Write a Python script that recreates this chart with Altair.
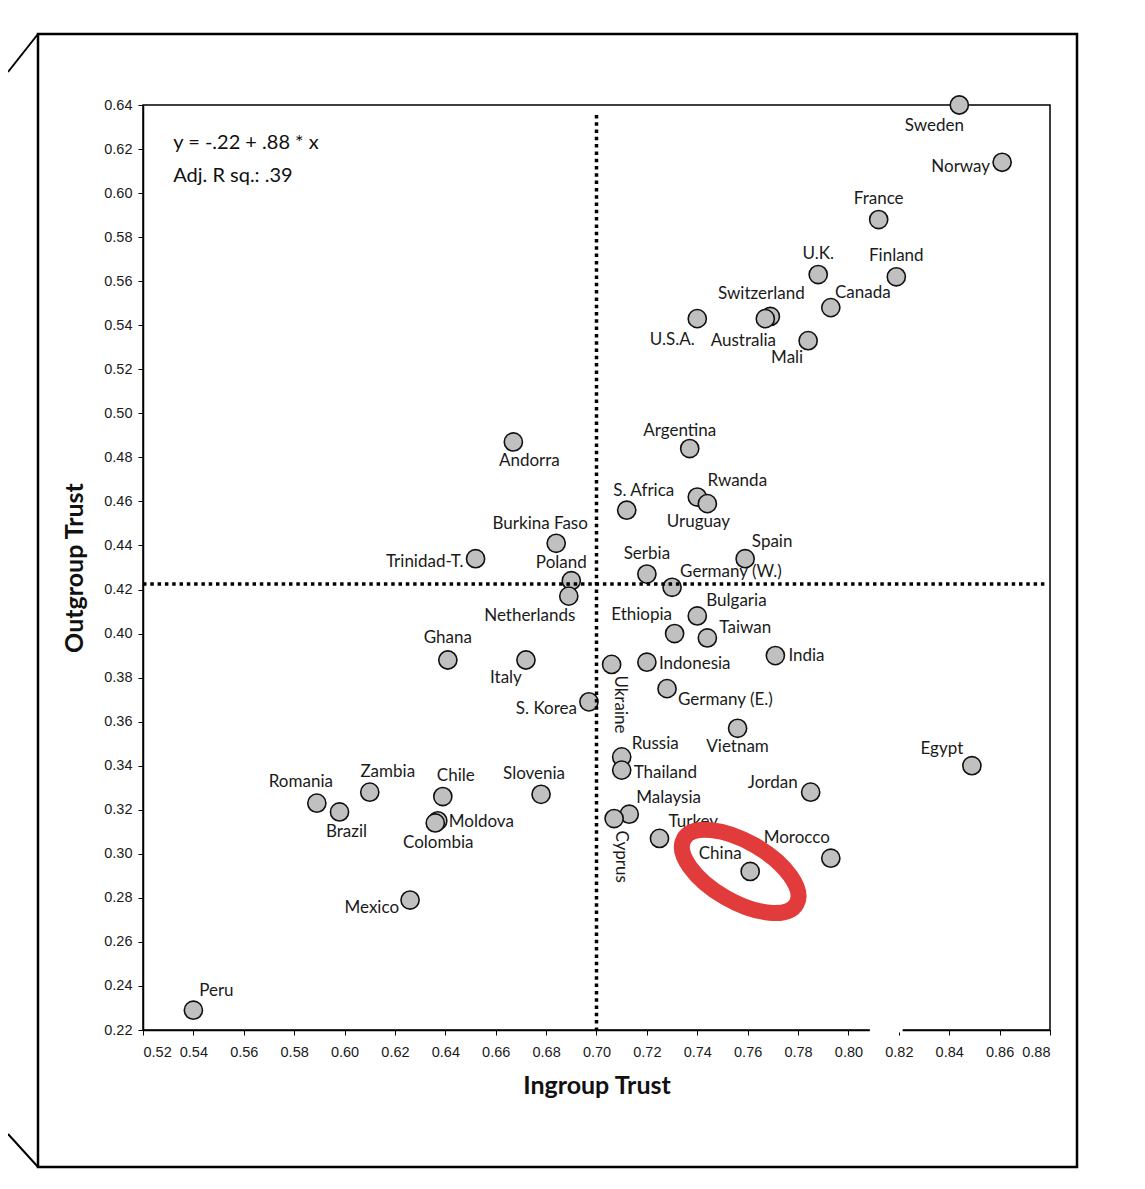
import altair as alt
import pandas as pd

# ---------------- data ----------------
countries = ["Sweden", "Norway", "France", "U.K.", "Finland", "Canada", "Switzerland",
             "Australia", "U.S.A.", "Mali", "Argentina", "Andorra", "S. Africa", "Rwanda",
             "Uruguay", "Burkina Faso", "Trinidad-T.", "Spain", "Serbia", "Poland",
             "Germany (W.)", "Netherlands", "Bulgaria", "Ethiopia", "Taiwan", "India",
             "Ghana", "Italy", "Indonesia", "Ukraine", "Germany (E.)", "S. Korea",
             "Vietnam", "Russia", "Thailand", "Egypt", "Jordan", "Zambia", "Chile",
             "Slovenia", "Romania", "Brazil", "Malaysia", "Cyprus", "Moldova",
             "Colombia", "Turkey", "Morocco", "China", "Mexico", "Peru"]
ingroup = [0.844, 0.861, 0.812, 0.788, 0.819, 0.793, 0.769,
           0.767, 0.740, 0.784, 0.737, 0.667, 0.712, 0.740,
           0.744, 0.684, 0.652, 0.759, 0.720, 0.690,
           0.730, 0.689, 0.740, 0.731, 0.744, 0.771,
           0.641, 0.672, 0.720, 0.706, 0.728, 0.697,
           0.756, 0.710, 0.710, 0.849, 0.785, 0.610, 0.639,
           0.678, 0.589, 0.598, 0.713, 0.707, 0.637,
           0.636, 0.725, 0.793, 0.761, 0.626, 0.540]
outgroup = [0.640, 0.614, 0.588, 0.563, 0.562, 0.548, 0.544,
            0.543, 0.543, 0.533, 0.484, 0.487, 0.456, 0.462,
            0.459, 0.441, 0.434, 0.434, 0.427, 0.424,
            0.421, 0.417, 0.408, 0.400, 0.398, 0.390,
            0.388, 0.388, 0.387, 0.386, 0.375, 0.369,
            0.357, 0.344, 0.338, 0.340, 0.328, 0.328, 0.326,
            0.327, 0.323, 0.319, 0.318, 0.316, 0.315,
            0.314, 0.307, 0.298, 0.292, 0.279, 0.229]

# label placement (c=centered, l=left-aligned, r=right-aligned, v=vertical) and pixel offsets
label_align = ["c", "r", "c", "c", "c", "c", "c",
               "c", "c", "c", "c", "c", "c", "c",
               "c", "c", "r", "c", "c", "c",
               "l", "c", "l", "c", "l", "l",
               "c", "c", "l", "v", "l", "r",
               "c", "l", "l", "c", "r", "c", "c",
               "c", "c", "c", "l", "v", "l",
               "c", "l", "c", "c", "r", "c"]
label_dx = [-25, -12, 0, 0, 0, 32, -9,
            -22, -25, -21, -10, 16, 17, 40,
            -9, -16, -12, 27, 0, -10,
            8, -39, 9, -33, 12, 13,
            0, -20, 12, 8, 11, -12,
            0, 10, 12, -30, -13, 18, 13,
            -7, -16, 7, 7, 7, 11,
            3, 9, -34, -30, -11, 23]
label_dy = [21, 5, -21, -21, -21, -15, -22,
            22, 21, 17, -18, 19, -19, -16,
            18, -19, 3, -17, -20, -18,
            -15, 20, -15, -19, -10, 0,
            -22, 18, 2, 40, 11, 7,
            19, -13, 3, -17, -9, -20, -21,
            -20, -21, 20, -16, 38, 1,
            20, -16, -20, -17, 8, -19]

x_ticks = [0.52, 0.54, 0.56, 0.58, 0.60, 0.62, 0.64, 0.66, 0.68, 0.70, 0.72,
           0.74, 0.76, 0.78, 0.80, 0.82, 0.84, 0.86, 0.88]
y_ticks = [0.22, 0.24, 0.26, 0.28, 0.30, 0.32, 0.34, 0.36, 0.38, 0.40, 0.42,
           0.44, 0.46, 0.48, 0.50, 0.52, 0.54, 0.56, 0.58, 0.60, 0.62, 0.64]

ref_x = 0.70          # vertical dotted reference (ingroup)
ref_y = 0.4225        # horizontal dotted reference (outgroup)
eq_lines = ["y = -.22 + .88 * x", "Adj. R sq.: .39"]
highlight = "China"

# ---------------- layout ----------------
W, H = 907, 925
X_DOM = [0.52, 0.88]
Y_DOM = [0.22, 0.64]
kx = (X_DOM[1] - X_DOM[0]) / W
ky = (Y_DOM[1] - Y_DOM[0]) / H

df = pd.DataFrame({"country": countries, "ingroup": ingroup, "outgroup": outgroup,
                   "align": label_align, "dx": label_dx, "dy": label_dy})
df["lx"] = df["ingroup"] + df["dx"] * kx
df["ly"] = df["outgroup"] - df["dy"] * ky

xs = alt.Scale(domain=X_DOM, nice=False, zero=False)
ys = alt.Scale(domain=Y_DOM, nice=False, zero=False)
x_axis = alt.Axis(values=x_ticks, format=".2f", title="Ingroup Trust",
                  labelPadding=10, titlePadding=15)
y_axis = alt.Axis(values=y_ticks, format=".2f", title="Outgroup Trust",
                  labelPadding=6, titlePadding=16)


def X(f):
    return alt.X(f, type="quantitative", scale=xs, axis=x_axis)


def Y(f):
    return alt.Y(f, type="quantitative", scale=ys, axis=y_axis)


one = pd.DataFrame({"a": [0]})

frame = alt.Chart(one).mark_rect(filled=False, color="black", strokeWidth=2.5).encode(
    x=alt.value(-105), x2=alt.value(934), y=alt.value(-71), y2=alt.value(1062))
diag1 = alt.Chart(one).mark_rule(color="black", strokeWidth=2).encode(
    x=alt.value(-105), y=alt.value(-71), x2=alt.value(-135), y2=alt.value(-33))
diag2 = alt.Chart(one).mark_rule(color="black", strokeWidth=2).encode(
    x=alt.value(-105), y=alt.value(1062), x2=alt.value(-135), y2=alt.value(1029))

points = alt.Chart(df).mark_circle(size=330, color="#c0c0c0", stroke="#111111",
                                   strokeWidth=1.6, opacity=1).encode(
    x=X("ingroup"), y=Y("outgroup"))

label_font = dict(font="Lato", fontSize=17, color="#1a1a1a", baseline="middle")


def labels(code, align, angle=0):
    return alt.Chart(df).transform_filter(alt.datum.align == code).mark_text(
        align=align, angle=angle, **label_font).encode(
        x=X("lx"), y=Y("ly"), text="country:N")


lab_c = labels("c", "center")
lab_l = labels("l", "left")
lab_r = labels("r", "right")
lab_v = labels("v", "center", 90)

vline = alt.Chart(pd.DataFrame({"x": [ref_x], "y1": [0.6355], "y2": [Y_DOM[0]]})).mark_rule(
    color="black", strokeWidth=3.5, strokeDash=[3.5, 3.8]).encode(
    x=X("x"), y=Y("y1"), y2="y2:Q")
hline = alt.Chart(pd.DataFrame({"y": [ref_y], "x1": [X_DOM[0]], "x2": [0.878]})).mark_rule(
    color="black", strokeWidth=3.5, strokeDash=[3.5, 3.8]).encode(
    y=Y("y"), x=X("x1"), x2="x2:Q")

eq_df = pd.DataFrame({"t": eq_lines, "x": [0.532, 0.532], "y": [0.6227, 0.6078]})
eq = alt.Chart(eq_df).mark_text(align="left", baseline="middle", font="Lato",
                                fontSize=20, color="#111").encode(
    x=X("x"), y=Y("y"), text="t:N")

hl = df[df["country"] == highlight][["ingroup", "outgroup"]].copy()
hl["cx"] = hl["ingroup"] - 10 * kx
hl["cy"] = hl["outgroup"] + 0 * ky
ellipse_path = "M -1 0 A 1 0.46 0 1 1 1 0 A 1 0.46 0 1 1 -1 0 Z"
ellipse = alt.Chart(hl).mark_point(shape=ellipse_path, size=16900, angle=30, filled=False,
                                   color="#e23b3b", strokeWidth=16, opacity=1).encode(
    x=X("cx"), y=Y("cy"))

gap = alt.Chart(pd.DataFrame({"x1": [0.8085], "x2": [0.8215], "y": [Y_DOM[0]]})).mark_rule(
    color="white", strokeWidth=5).encode(x=X("x1"), x2="x2:Q", y=Y("y"))

chart = alt.layer(frame, diag1, diag2, points, lab_c, lab_l, lab_r, lab_v,
                  vline, hline, eq, ellipse, gap).properties(
    width=W, height=H,
    autosize=alt.AutoSizeParams(type="none"),
    padding={"left": 135, "top": 97, "right": 40, "bottom": 148},
    background="white",
).configure_view(stroke="black", strokeWidth=1.5).configure_axis(
    grid=False, domainColor="black", domainWidth=1.5, tickColor="black", tickSize=5,
    labelFont="Liberation Sans", labelFontSize=14.5, labelColor="#1a1a1a",
    titleFont="Lato", titleFontSize=25, titleFontWeight="bold", titleColor="#111")

chart.save("out.html", embed_options={"renderer": "svg", "actions": False})
